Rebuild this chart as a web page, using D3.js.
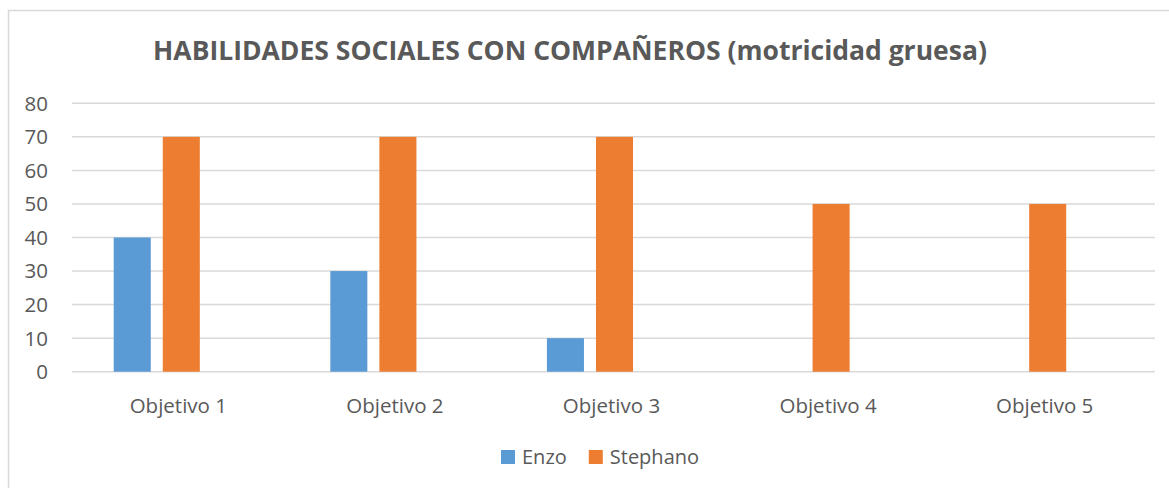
<!DOCTYPE html>
<html>
<head>
<meta charset="utf-8">
<script src="https://cdn.jsdelivr.net/npm/d3@7"></script>
<style>
    body { margin: 0; background: #fff; }
    text { font-family: "Open Sans", sans-serif; fill: #595959; }
</style>
</head>
<body>
<div id="chart"></div>
<script>

var categories = ["Objetivo 1", "Objetivo 2", "Objetivo 3", "Objetivo 4", "Objetivo 5"];
var seriesNames = ["Enzo", "Stephano"];
var enzoValues = [40, 30, 10, 0, 0];
var stephanoValues = [70, 70, 70, 50, 50];
var yTicks = [0, 10, 20, 30, 40, 50, 60, 70, 80];
var titleText = "HABILIDADES SOCIALES CON COMPAÑEROS (motricidad gruesa)";

var colors = ["#5b9bd5", "#ed7d31"];

// Set the dimensions of the canvas / graph
var width = 1169, height = 488;
var plot = {left: 72, right: 1155, top: 103.3, bottom: 371.7};

var svg = d3.select("#chart")
    .append("svg")
        .attr("width", width)
        .attr("height", height);

// chart area border (right and bottom edges fall outside the picture)
svg.append("rect")
    .attr("x", 8.5)
    .attr("y", 10.5)
    .attr("width", 1200)
    .attr("height", 600)
    .attr("fill", "#fff")
    .attr("stroke", "#d9d9d9")
    .attr("stroke-width", 1.5);

// Set the ranges
var x0 = d3.scaleBand()
    .domain(categories)
    .range([plot.left + 1, plot.right + 1]);

// three slots per group: Excel kept an empty third series
var x1 = d3.scaleBand()
    .domain([0, 1, 2])
    .range([0, x0.bandwidth()])
    .paddingInner(0.245)
    .paddingOuter(0.83);

var y = d3.scaleLinear()
    .domain([0, 80])
    .range([plot.bottom, plot.top]);

// gridlines
svg.append("g")
    .selectAll("line")
    .data(yTicks)
    .join("line")
        .attr("x1", plot.left)
        .attr("x2", plot.right)
        .attr("y1", function(d) { return y(d); })
        .attr("y2", function(d) { return y(d); })
        .attr("stroke", "#d9d9d9")
        .attr("stroke-width", 1.5);

// y axis labels
svg.append("g")
    .selectAll("text")
    .data(yTicks)
    .join("text")
        .attr("x", 48)
        .attr("y", function(d) { return y(d); })
        .attr("dy", "0.36em")
        .attr("text-anchor", "end")
        .attr("font-size", 20.5)
        .text(function(d) { return d; });

// bars
var series = [enzoValues, stephanoValues];
series.forEach(function(values, s) {
    svg.append("g")
        .selectAll("rect")
        .data(values)
        .join("rect")
            .attr("x", function(d, i) { return x0(categories[i]) + x1(s); })
            .attr("width", x1.bandwidth())
            .attr("y", function(d) { return y(d); })
            .attr("height", function(d) { return y(0) - y(d); })
            .attr("fill", colors[s]);
});

// x axis labels
svg.append("g")
    .selectAll("text")
    .data(categories)
    .join("text")
        .attr("x", function(d) { return x0(d) + x0.bandwidth() / 2 - 3; })
        .attr("y", 413)
        .attr("text-anchor", "middle")
        .attr("font-size", 20.5)
        .text(function(d) { return d; });

// title, sized to fill the same width as the original
var title = svg.append("text")
    .attr("x", 570)
    .attr("y", 60)
    .attr("text-anchor", "middle")
    .attr("font-weight", "bold")
    .attr("font-size", 24)
    .text(titleText);
var tw = title.node().getComputedTextLength();
title.attr("font-size", 24 * 834 / tw);

// legend
var legend = svg.append("g");
var lx = 501;
seriesNames.forEach(function(name, s) {
    legend.append("rect")
        .attr("x", lx)
        .attr("y", 450)
        .attr("width", 14)
        .attr("height", 14)
        .attr("fill", colors[s]);
    var t = legend.append("text")
        .attr("x", lx + 21)
        .attr("y", 464)
        .attr("font-size", 20)
        .text(name);
    lx += 21 + t.node().getComputedTextLength() + 22;
});

</script>
</body>
</html>
